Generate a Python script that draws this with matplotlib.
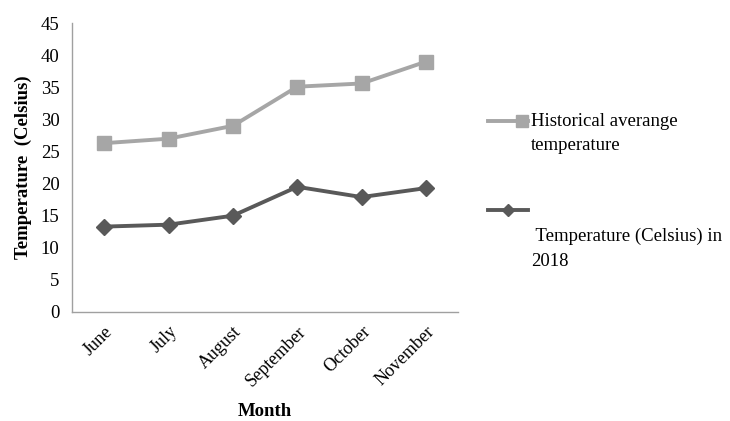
import matplotlib.pyplot as plt
from matplotlib.lines import Line2D

months = ["June", "July", "August", "September", "October", "November"]
historical = [26.3, 27.0, 29.0, 35.1, 35.6, 39.0]
temp_2018 = [13.3, 13.6, 15.0, 19.5, 17.9, 19.3]

LIGHT = "#a6a6a6"
DARK = "#595959"
FS = 13.5

plt.rcParams["font.family"] = ["Liberation Serif", "DejaVu Serif"]

fig = plt.figure(figsize=(7.3, 4.21), dpi=100)
ax = fig.add_axes([0.0986, 0.259, 0.529, 0.686])

x = range(len(months))
ax.plot(x, historical, color=LIGHT, lw=2.8, marker="s", ms=10.5)
ax.plot(x, temp_2018, color=DARK, lw=2.8, marker="D", ms=8.5)

ax.set_xlim(-0.5, len(months) - 0.5)
ax.set_ylim(0, 45)
ax.set_yticks(range(0, 46, 5))
ax.set_xticks(list(x))
ax.set_xticklabels(months, rotation=45, ha="right", rotation_mode="anchor")
ax.tick_params(length=0, labelsize=FS, pad=9)
ax.tick_params(axis="x", labelsize=13, pad=8)
for s in ["top", "right"]:
    ax.spines[s].set_visible(False)
for s in ["left", "bottom"]:
    ax.spines[s].set_color("#a0a0a0")
    ax.spines[s].set_linewidth(1)

ax.set_ylabel("Temperature  (Celsius)", fontsize=FS, fontweight="bold", labelpad=6)
ax.set_xlabel("Month", fontsize=FS, fontweight="bold")
ax.xaxis.set_label_coords(0.5, -0.345)
ax.xaxis.label.set_va("center")

# legend drawn by hand to mimic the odd layout
W, H = 730, 421
def fx(px):
    return px / W
def fy(py):
    return 1 - py / H

fig.add_artist(Line2D([fx(488), fx(528)], [fy(121), fy(121)], color=LIGHT, lw=2.8))
fig.add_artist(Line2D([fx(522)], [fy(121)], color=LIGHT, marker="s", ms=8))
fig.text(fx(531), fy(121), "Historical averange", fontsize=FS, va="center")
fig.text(fx(531), fy(145), "temperature", fontsize=FS, va="center")

fig.add_artist(Line2D([fx(488), fx(528)], [fy(210), fy(210)], color=DARK, lw=2.8))
fig.add_artist(Line2D([fx(508)], [fy(210)], color=DARK, marker="D", ms=6.5))
fig.text(fx(531), fy(236), " Temperature (Celsius) in", fontsize=FS, va="center")
fig.text(fx(531), fy(261), "2018", fontsize=FS, va="center")

fig.savefig("out.png", dpi=100)
